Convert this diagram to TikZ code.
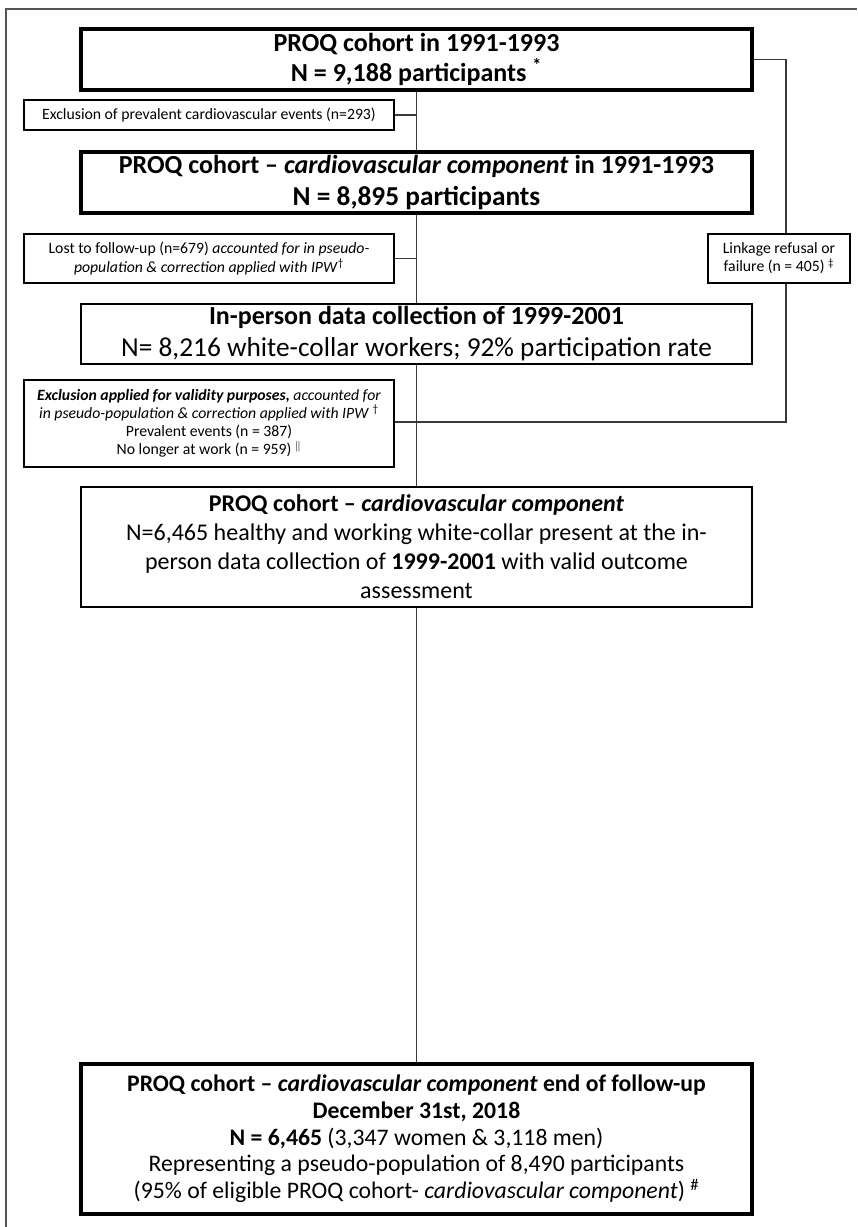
\documentclass[tikz,border=0pt]{standalone}
\usepackage{fontspec}
\setmainfont{Carlito}
\definecolor{linecol}{HTML}{3A3A3A}
\definecolor{framecol}{HTML}{555555}
\tikzset{
  bigbox/.style={draw=black, line width=2.6pt, inner sep=0pt, align=center, minimum width=503.25pt, fill=white},
  midbox/.style={draw=black, line width=1.1pt, inner sep=0pt, align=center, minimum width=503.25pt, fill=white},
  sidebox/.style={draw=black, line width=1.0pt, inner sep=0pt, align=center, minimum width=277.5pt, fill=white,
     font=\fontsize{11.8pt}{13.6pt}\selectfont},
  conn/.style={draw=linecol, line width=0.9pt},
}
\begin{document}
\begin{tikzpicture}[x=0.75pt,y=-0.75pt]
\useasboundingbox (0,0) rectangle (857,1227);
\draw[framecol, line width=1.1pt] (6,1227) -- (6,9) -- (857,9);

% main boxes
\node[bigbox, minimum height=45.75pt, font=\fontsize{19.5pt}{22.5pt}\selectfont\bfseries] (b1) at (416.5,59.5)
  {PROQ cohort in 1991-1993\\N = 9,188 participants \textsuperscript{*}};
\node[bigbox, minimum height=45.75pt, font=\fontsize{19.5pt}{23.5pt}\selectfont\bfseries] (b2) at (416.5,182.5)
  {PROQ cohort -- \textit{cardiovascular component} in 1991-1993\\{\fontsize{20.5pt}{23.5pt}\selectfont N = 8,895 participants}};
\node[midbox, minimum height=45pt, font=\fontsize{20pt}{24pt}\selectfont] (b3) at (416.5,334)
  {{\fontsize{19.5pt}{24pt}\selectfont\bfseries In-person data collection of 1999-2001}\\
   {\fontsize{20.5pt}{24pt}\selectfont N= 8,216 white-collar workers; 92\% participation rate}};
\node[midbox, minimum height=90pt, font=\fontsize{18pt}{21.75pt}\selectfont] (b4) at (416.5,547)
  {\textbf{PROQ cohort -- \textit{cardiovascular component}}\\
   N=6,465 healthy and working white-collar present at the in-\\
   person data collection of \textbf{1999-2001} with valid outcome\\
   assessment};
\node[bigbox, minimum height=112.5pt, font=\fontsize{17.8pt}{20pt}\selectfont] (b5) at (416.5,1139)
  {\textbf{PROQ cohort -- \textit{cardiovascular component} end of follow-up}\\
   \textbf{December 31st, 2018}\\
   \textbf{N = 6,465} (3,347 women \& 3,118 men)\\
   Representing a pseudo-population of 8,490 participants\\
   (95\% of eligible PROQ cohort- \textit{cardiovascular component}) \textsuperscript{\#}};

% side boxes
\node[sidebox, minimum height=22.5pt] (e1) at (209,115)
  {Exclusion of prevalent cardiovascular events (n=293)};
\node[sidebox, minimum height=36.75pt] (e2) at (209,258.5)
  {Lost to follow-up (n=679) \textit{accounted for in pseudo-}\\
   \textit{population \& correction applied with IPW}\textsuperscript{†}};
\node[sidebox, minimum height=65.25pt] (e3) at (209,423.5)
  {\textbf{\textit{Exclusion applied for validity purposes,}} \textit{accounted for}\\
   \textit{in pseudo-population \& correction applied with IPW} \textsuperscript{†}\\
   Prevalent events (n = 387)\\
   No longer at work (n = 959) \textsuperscript{$\Vert$}};

% connectors
\coordinate (rt) at (786,59.5);
\coordinate (rb) at (786,422);
\path[conn] (b1.south) -- (b2.north);
\path[conn] (b2.south) -- (b3.north);
\path[conn] (b3.south) -- (b4.north);
\path[conn] (b4.south) -- (b5.north);
\path[conn] (e1.east) -- (e1.east -| b1.south);
\path[conn] (e2.east) -- (e2.east -| b1.south);
\path[conn] (e3.east |- rb) -- (rb -| b1.south);
\path[conn] (b1.east) -- (rt) -- (rb) -- (rb -| b1.south);

\node[sidebox, minimum width=106.5pt, minimum height=36.75pt] (lk) at (779,258.5)
  {Linkage refusal or\\failure (n = 405) \textsuperscript{‡}};
\end{tikzpicture}
\end{document}
